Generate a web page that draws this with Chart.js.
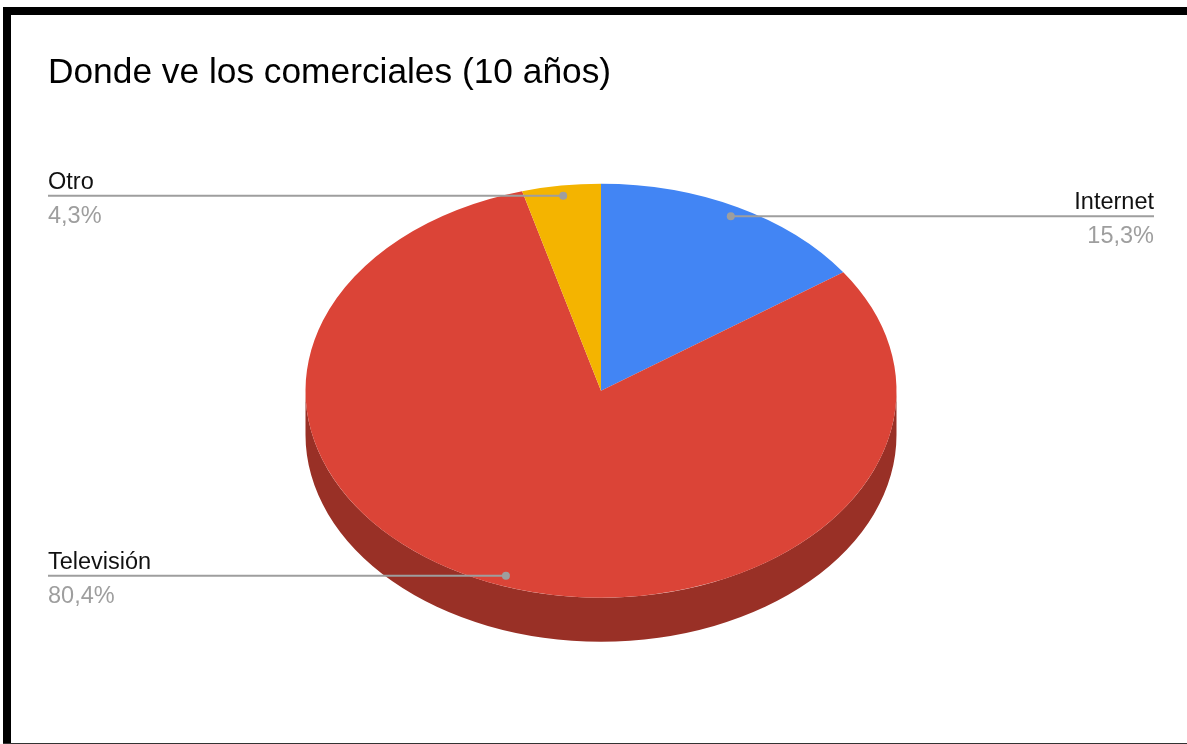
<!DOCTYPE html>
<html lang="es">
<head>
  <meta charset="UTF-8">
  <title>Donde ve los comerciales</title>
  <script src="https://cdn.jsdelivr.net/npm/chart.js"></script>
  <style>
    body { margin: 0; background: #fff; }
    #wrap { position: relative; width: 1187px; height: 744px; overflow: hidden; }
    #grafico { position: absolute; left: 0; top: 0; }
    .borde { position: absolute; background: #000; }
  </style>
</head>
<body>
  <div id="wrap">
    <canvas id="grafico" width="1187" height="744"></canvas>
    <div class="borde" style="left:3px; top:7px; width:1184px; height:8px;"></div>
    <div class="borde" style="left:3px; top:7px; width:8px; height:737px;"></div>
    <div class="borde" style="left:3px; top:743px; width:1184px; height:1px; background:#333;"></div>
  </div>

  <script>
    const categorias = ['Internet', 'Televisión', 'Otro'];
    const valores = [15.3, 80.4, 4.3];
    const colores = ['#4285f4', '#db4437', '#f4b400'];
    const coloresLado = ['#2e5dab', '#993026', '#ab7e00'];

    const achatar = 0.7005;   // relacion alto/ancho de la elipse
    const grosor = 44;        // alto del lado 3D

    function rangosVisibles(ini, fin) {
      // partes del arco que miran hacia abajo (angulos 0..PI)
      let out = [];
      for (let k = -1; k <= 2; k++) {
        let a = Math.max(ini, 2 * Math.PI * k);
        let b = Math.min(fin, 2 * Math.PI * k + Math.PI);
        if (b > a) out.push([a, b]);
      }
      return out;
    }

    const pastel3d = {
      id: 'pastel3d',
      beforeDatasetsDraw(chart) {
        const ctx = chart.ctx;
        const arcos = chart.getDatasetMeta(0).data;
        arcos.forEach((arc, i) => {
          const r = arc.outerRadius, ry = r * achatar;
          rangosVisibles(arc.startAngle, arc.endAngle).forEach(([a, b]) => {
            ctx.beginPath();
            ctx.ellipse(arc.x, arc.y, r, ry, 0, a, b);
            ctx.ellipse(arc.x, arc.y + grosor, r, ry, 0, b, a, true);
            ctx.closePath();
            ctx.fillStyle = coloresLado[i];
            ctx.fill();
          });
        });
        const a0 = arcos[0];
        ctx.save();
        ctx.translate(a0.x, a0.y);
        ctx.scale(1, achatar);
        ctx.translate(-a0.x, -a0.y);
      },
      afterDatasetsDraw(chart) {
        const ctx = chart.ctx;
        ctx.restore();
        const arcos = chart.getDatasetMeta(0).data;
        const total = valores.reduce((s, v) => s + v, 0);
        arcos.forEach((arc, i) => {
          const mid = (arc.startAngle + arc.endAngle) / 2;
          const rr = arc.outerRadius * 0.95;
          const px = arc.x + Math.cos(mid) * rr;
          const py = arc.y + Math.sin(mid) * rr * achatar;
          const derecha = Math.cos(mid) >= 0;
          const xTexto = derecha ? 1154 : 48;

          ctx.strokeStyle = '#9e9e9e';
          ctx.lineWidth = 2;
          ctx.beginPath();
          ctx.moveTo(px, py);
          ctx.lineTo(xTexto, py);
          ctx.stroke();
          ctx.fillStyle = '#9e9e9e';
          ctx.beginPath();
          ctx.arc(px, py, 4, 0, Math.PI * 2);
          ctx.fill();

          ctx.textAlign = derecha ? 'right' : 'left';
          ctx.textBaseline = 'alphabetic';
          ctx.font = '23.5px "Liberation Sans", Arial, sans-serif';
          ctx.fillStyle = '#111';
          ctx.fillText(categorias[i], xTexto, py - 7);
          ctx.fillStyle = '#9e9e9e';
          const pct = (valores[i] / total * 100).toFixed(1).replace('.', ',') + '%';
          ctx.fillText(pct, xTexto, py + 27);
        });
      }
    };

    new Chart(document.getElementById('grafico'), {
      type: 'pie',
      data: {
        labels: categorias,
        datasets: [{
          data: valores,
          backgroundColor: colores,
          borderWidth: 0,
          hoverOffset: 0,
          radius: 295.5
        }]
      },
      options: {
        responsive: false,
        animation: false,
        events: [],
        layout: { padding: { left: 48, right: 33, top: 52, bottom: 57 } },
        plugins: {
          legend: { display: false },
          tooltip: { enabled: false },
          title: {
            display: true,
            text: 'Donde ve los comerciales (10 años)',
            align: 'start',
            color: '#000',
            font: { family: '"Liberation Sans", Arial, sans-serif', size: 35.3, weight: 'normal', lineHeight: 1.2 },
            padding: { top: 0, bottom: 0 }
          }
        }
      },
      plugins: [pastel3d]
    });
  </script>
</body>
</html>
